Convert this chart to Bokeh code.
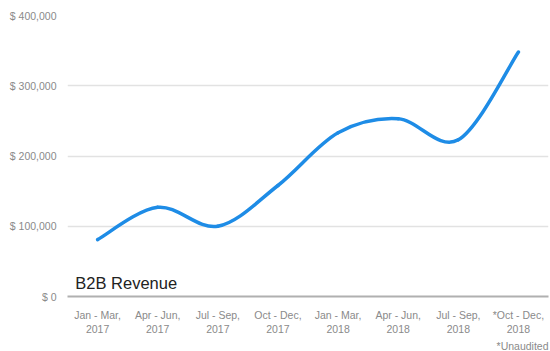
from bokeh.plotting import figure
from bokeh.models import Range1d, FixedTicker, Label, Title
from bokeh.embed import file_html
from bokeh.resources import INLINE

quarters = ["Jan - Mar,\n2017", "Apr - Jun,\n2017", "Jul - Sep,\n2017", "Oct - Dec,\n2017",
            "Jan - Mar,\n2018", "Apr - Jun,\n2018", "Jul - Sep,\n2018", "*Oct - Dec,\n2018"]
revenue = [81000, 127000, 100000, 158000, 233000, 253000, 223000, 348000]
y_ticks = [0, 100000, 200000, 300000, 400000]
y_tick_labels = ["$ 0", "$ 100,000", "$ 200,000", "$ 300,000", "$ 400,000"]
title_text = "B2B Revenue"
note_text = "*Unaudited"

FONT = "Liberation Sans"
GRAY = "#8a8a8a"

p = figure(width=550, height=351, output_backend="svg", toolbar_location=None,
           x_range=Range1d(-0.5, len(quarters) - 0.5), y_range=Range1d(0, 400000),
           min_border_left=67, min_border_right=2, min_border_top=15, min_border_bottom=55)
p.outline_line_color = None
p.background_fill_color = "white"
p.border_fill_color = "white"

# axes
p.xaxis.ticker = FixedTicker(ticks=list(range(len(quarters))))
p.xaxis.major_label_overrides = {i: q for i, q in enumerate(quarters)}
p.yaxis.ticker = FixedTicker(ticks=y_ticks)
p.yaxis.major_label_overrides = {t: l for t, l in zip(y_ticks, y_tick_labels)}
for ax in (p.xaxis, p.yaxis):
    ax.major_tick_line_color = None
    ax.minor_tick_line_color = None
    ax.major_label_text_font = FONT
    ax.major_label_text_font_size = "10.5px"
    ax.major_label_text_color = GRAY
p.yaxis.axis_line_color = None
p.yaxis.major_label_standoff = 5
p.xaxis.axis_line_color = "#b0b0b0"
p.xaxis.axis_line_width = 2
p.xaxis.major_label_standoff = 6
p.xgrid.grid_line_color = None
p.ygrid.grid_line_color = "#e2e2e2"
p.ygrid.grid_line_width = 1.5

# smooth curve (Catmull-Rom -> cubic Bezier) through the data points
xs = list(range(len(revenue)))
n = len(revenue)
x0, y0, x1, y1, cx0, cy0, cx1, cy1 = [], [], [], [], [], [], [], []
k = 1.0 / 6.0
for i in range(n - 1):
    pm = (xs[max(i - 1, 0)], revenue[max(i - 1, 0)])
    p0 = (xs[i], revenue[i])
    p1 = (xs[i + 1], revenue[i + 1])
    p2 = (xs[min(i + 2, n - 1)], revenue[min(i + 2, n - 1)])
    x0.append(p0[0]); y0.append(p0[1])
    x1.append(p1[0]); y1.append(p1[1])
    cx0.append(p0[0] + (p1[0] - pm[0]) * k); cy0.append(p0[1] + (p1[1] - pm[1]) * k)
    cx1.append(p1[0] - (p2[0] - p0[0]) * k); cy1.append(p1[1] - (p2[1] - p0[1]) * k)
p.bezier(x0=x0, y0=y0, x1=x1, y1=y1, cx0=cx0, cy0=cy0, cx1=cx1, cy1=cy1,
         line_color="#1e8ce6", line_width=3.5, line_cap="round")

p.add_layout(Label(x=-0.37, y=6000, text=title_text, text_font=FONT,
                   text_font_size="16.5px", text_color="#222222"))
p.add_layout(Title(text=note_text, align="right", offset=0, text_font=FONT,
                   text_font_size="10.5px", text_color=GRAY, text_font_style="normal",
                   standoff=0), "below")

open("out.html", "w").write(file_html(p, INLINE))
